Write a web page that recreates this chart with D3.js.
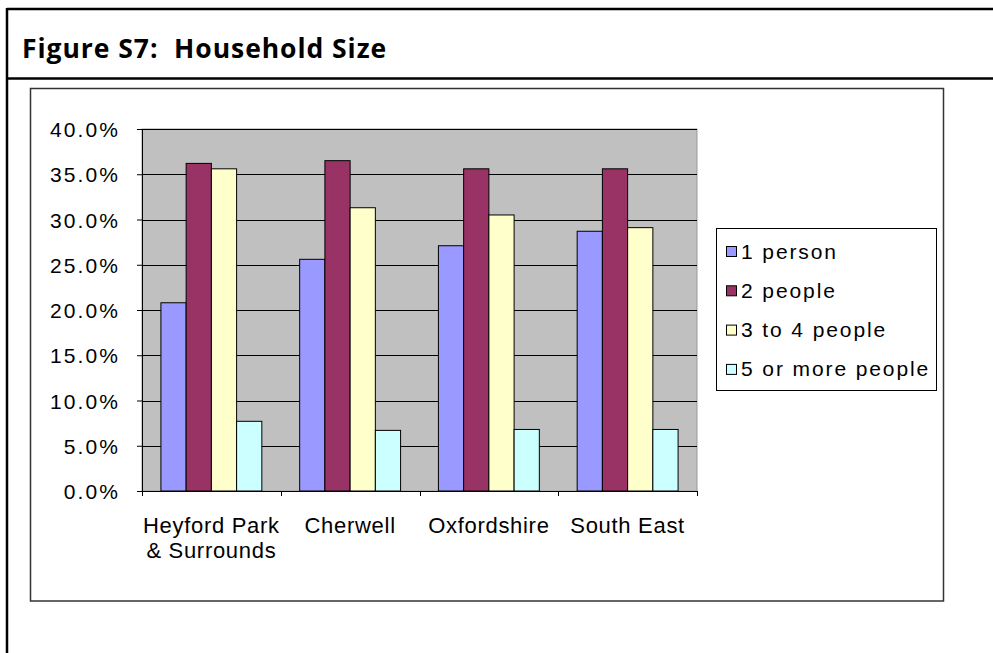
<!DOCTYPE html>
<html><head><meta charset="utf-8">
<script src="https://cdn.jsdelivr.net/npm/d3@7/dist/d3.min.js"></script>
<style>body{margin:0;background:#fff}svg{display:block}</style>
</head><body><svg id="c" width="993" height="653"></svg>
<script>
const title = "Figure S7:  Household Size";
const categories = [["Heyford Park","& Surrounds"],["Cherwell"],["Oxfordshire"],["South East"]];
const seriesNames = ["1 person","2 people","3 to 4 people","5 or more people"];
const onePerson = [20.8, 25.6, 27.1, 28.7];
const twoPeople = [36.2, 36.5, 35.6, 35.6];
const threeToFour = [35.6, 31.3, 30.5, 29.1];
const fivePlus = [7.7, 6.7, 6.8, 6.8];
const seriesValues = [onePerson, twoPeople, threeToFour, fivePlus];
const colors = ["#9999FF","#993366","#FFFFCC","#CCFFFF"];
const yTicks = [0,5,10,15,20,25,30,35,40];

const svg = d3.select("#c");
const font = "'Liberation Sans', Arial, sans-serif";

// outer frame
svg.append("line").attr("x1",7).attr("x2",993).attr("y1",9).attr("y2",9).attr("stroke","#000").attr("stroke-width",2.5);
svg.append("line").attr("x1",7).attr("x2",993).attr("y1",78.5).attr("y2",78.5).attr("stroke","#000").attr("stroke-width",2.5);
svg.append("line").attr("x1",7).attr("x2",7).attr("y1",8).attr("y2",653).attr("stroke","#000").attr("stroke-width",2.5);
svg.append("text").attr("x",22).attr("y",58).text(title).style("white-space","pre")
  .attr("font-family","'Open Sans', Lato, sans-serif").attr("font-weight","bold").attr("font-size",26.5)
  .attr("letter-spacing","0.95px").attr("fill","#000");

// inner chart box
svg.append("rect").attr("x",30.5).attr("y",88.5).attr("width",913).attr("height",512.5)
  .attr("fill","#fff").attr("stroke","#333").attr("stroke-width",1.5);

const L=142, R=697, T=129, B=491;
const x0 = d3.scaleBand().domain(d3.range(categories.length)).range([L,R]).paddingInner(0).paddingOuter(0);
const bw = x0.bandwidth()/5.5;
const y = d3.scaleLinear().domain([0,40]).range([B,T]);

svg.append("rect").attr("x",L).attr("y",T).attr("width",R-L).attr("height",B-T).attr("fill","#C0C0C0").attr("stroke","#999").attr("stroke-width",1);

// gridlines
svg.append("g").selectAll("line").data(yTicks.slice(1)).join("line")
  .attr("x1",L).attr("x2",R).attr("y1",d=>Math.round(y(d))+0.5).attr("y2",d=>Math.round(y(d))+0.5)
  .attr("stroke","#000").attr("stroke-width",1);

// bars
const g = svg.append("g");
seriesValues.forEach((vals,si)=>{
  g.selectAll(null).data(vals).join("rect")
    .attr("x",(d,i)=>x0(i)+bw*0.75+si*bw)
    .attr("y",d=>y(d))
    .attr("width",bw)
    .attr("height",d=>B-y(d))
    .attr("fill",colors[si]).attr("stroke","#000").attr("stroke-width",1);
});

// y axis
const yAxis = d3.axisLeft(y).tickValues(yTicks).tickSize(5).tickPadding(17).tickFormat(d=>d.toFixed(1)+"%");
const ya = svg.append("g").attr("transform",`translate(${L},0)`).call(yAxis);
ya.select(".domain").attr("stroke","#000");
ya.selectAll(".tick line").attr("stroke","#000");
ya.selectAll("text").attr("font-family",font).attr("font-size",21).attr("fill","#000").attr("letter-spacing","2.1px").attr("dy","0.36em");

// x axis
const xTickPos = d3.range(categories.length+1).map(i=>L+i*x0.bandwidth());
svg.append("line").attr("x1",L).attr("x2",R).attr("y1",B+0.5).attr("y2",B+0.5).attr("stroke","#000");
svg.append("g").selectAll("line").data(xTickPos).join("line")
  .attr("x1",d=>Math.round(d)+0.5).attr("x2",d=>Math.round(d)+0.5).attr("y1",B).attr("y2",B+5).attr("stroke","#000");
const xl = svg.append("g");
categories.forEach((lines,i)=>{
  const t = xl.append("text").attr("x",x0(i)+x0.bandwidth()/2).attr("y",533)
    .attr("text-anchor","middle").attr("font-family",font).attr("font-size",22).attr("letter-spacing","0.7px").attr("fill","#000");
  lines.forEach((ln,j)=>{
    t.append("tspan").attr("x",x0(i)+x0.bandwidth()/2).attr("dy",j===0?0:25).text(ln);
  });
});

// legend
svg.append("rect").attr("x",716.5).attr("y",228.5).attr("width",220).attr("height",162).attr("fill","#fff").attr("stroke","#000").attr("stroke-width",1);
const lg = svg.append("g");
seriesNames.forEach((n,i)=>{
  const cy = 251 + i*39.3;
  lg.append("rect").attr("x",726.5).attr("y",cy-4.5).attr("width",10).attr("height",10).attr("fill",colors[i]).attr("stroke","#000");
  lg.append("text").attr("x",741).attr("y",cy+7.5).text(n).attr("font-family",font).attr("font-size",21).attr("letter-spacing","1.9px").attr("fill","#000");
});
</script></body></html>
